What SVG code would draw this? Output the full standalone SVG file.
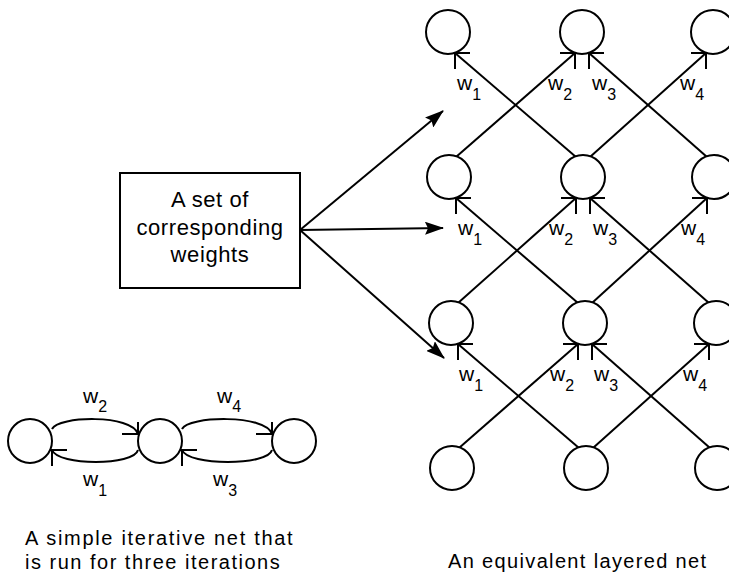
<svg xmlns="http://www.w3.org/2000/svg" xmlns:xlink="http://www.w3.org/1999/xlink" width="729" height="573" viewBox="0 0 729 573">
  <style>
    .node { fill: #fff; stroke: #000; stroke-width: 2; }
    .edge { fill: none; stroke: #000; stroke-width: 2; }
    .hd { fill: none; stroke: #000; stroke-width: 2; }
    .lbl { font-family: "Liberation Sans", Arial, sans-serif; font-size: 21px; fill: #000; }
    .sub { font-size: 16px; }
    .box-text { font-family: "Liberation Sans", Arial, sans-serif; font-size: 22px; letter-spacing: 0.6px; fill: #000; text-anchor: middle; }
    .caption { font-family: "Liberation Sans", Arial, sans-serif; font-size: 20px; fill: #000; }
  </style>
  <defs>
    <!-- open arrowheads: tip at origin, one horizontal and one vertical barb -->
    <path id="hdR" d="M-2,0 H15 M0,0 V16"/>
    <path id="hdL" d="M2,0 H-15 M0,0 V16"/>
    <path id="hdLU" d="M1,0 H-16 M0,1 V-12"/>
    <marker id="solid" viewBox="0 0 19 13" refX="18" refY="6.5" markerWidth="19" markerHeight="13" markerUnits="userSpaceOnUse" orient="auto">
      <path d="M0,0 L19,6.5 L0,13 L3,6.5 z" fill="#000"/>
    </marker>
  </defs>

  <rect width="729" height="573" fill="#fff"/>

  <!-- weights box -->
  <g id="weights-box">
    <rect x="120" y="173" width="180" height="115" fill="#fff" stroke="#000" stroke-width="2"/>
    <text class="box-text" x="210" y="207">A set of</text>
    <text class="box-text" x="210" y="235">corresponding</text>
    <text class="box-text" x="210" y="262">weights</text>
  </g>

  <!-- connectors -->
  <g id="connectors">
    <!-- box to each layer -->
    <g class="edge" marker-end="url(#solid)">
      <line x1="300" y1="230" x2="443" y2="111"/>
      <line x1="300" y1="230" x2="443" y2="228"/>
      <line x1="300" y1="230" x2="444" y2="358"/>
    </g>

    <!-- layered net: rows 3 to 2, 2 to 1, 1 to 0 -->
    <g class="edge">
      <line x1="456" y1="157" x2="575" y2="53"/>
      <line x1="576" y1="157" x2="455" y2="53"/>
      <line x1="590" y1="157" x2="706" y2="53"/>
      <line x1="707" y1="157" x2="589" y2="53"/>

      <line x1="458" y1="303" x2="576" y2="198"/>
      <line x1="578" y1="303" x2="456" y2="198"/>
      <line x1="592" y1="303" x2="707" y2="198"/>
      <line x1="709" y1="303" x2="590" y2="198"/>

      <line x1="459" y1="448" x2="578" y2="344"/>
      <line x1="579" y1="448" x2="458" y2="344"/>
      <line x1="593" y1="448" x2="709" y2="344"/>
      <line x1="710" y1="448" x2="592" y2="344"/>
    </g>
    <g class="hd">
      <use xlink:href="#hdR" href="#hdR" x="455" y="53"/>
      <use xlink:href="#hdL" href="#hdL" x="575" y="53"/>
      <use xlink:href="#hdR" href="#hdR" x="589" y="53"/>
      <use xlink:href="#hdL" href="#hdL" x="706" y="53"/>

      <use xlink:href="#hdR" href="#hdR" x="456" y="198"/>
      <use xlink:href="#hdL" href="#hdL" x="576" y="198"/>
      <use xlink:href="#hdR" href="#hdR" x="590" y="198"/>
      <use xlink:href="#hdL" href="#hdL" x="707" y="198"/>

      <use xlink:href="#hdR" href="#hdR" x="458" y="344"/>
      <use xlink:href="#hdL" href="#hdL" x="578" y="344"/>
      <use xlink:href="#hdR" href="#hdR" x="592" y="344"/>
      <use xlink:href="#hdL" href="#hdL" x="709" y="344"/>
    </g>

    <!-- iterative net loops -->
    <g class="edge">
      <path d="M52,429 C58,416 132,414 138,434"/>
      <path d="M138,450 C134,466 58,466 52,450"/>
      <path d="M182,429 C188,416 266,414 272,434"/>
      <path d="M272,450 C268,466 188,466 182,450"/>
    </g>
    <g class="hd">
      <use xlink:href="#hdLU" href="#hdLU" x="138" y="434"/>
      <use xlink:href="#hdR" href="#hdR" x="52" y="450"/>
      <use xlink:href="#hdLU" href="#hdLU" x="272" y="434"/>
      <use xlink:href="#hdR" href="#hdR" x="182" y="450"/>
    </g>
  </g>

  <!-- weight labels, layered net -->
  <g id="layer-labels" class="lbl">
    <text x="457" y="90">w<tspan class="sub" dy="10">1</tspan></text>
    <text x="548" y="90">w<tspan class="sub" dy="10">2</tspan></text>
    <text x="592" y="90">w<tspan class="sub" dy="10">3</tspan></text>
    <text x="680" y="90">w<tspan class="sub" dy="10">4</tspan></text>

    <text x="458" y="235">w<tspan class="sub" dy="10">1</tspan></text>
    <text x="549" y="235">w<tspan class="sub" dy="10">2</tspan></text>
    <text x="593" y="235">w<tspan class="sub" dy="10">3</tspan></text>
    <text x="681" y="235">w<tspan class="sub" dy="10">4</tspan></text>

    <text x="459" y="381">w<tspan class="sub" dy="10">1</tspan></text>
    <text x="550" y="381">w<tspan class="sub" dy="10">2</tspan></text>
    <text x="594" y="381">w<tspan class="sub" dy="10">3</tspan></text>
    <text x="683" y="381">w<tspan class="sub" dy="10">4</tspan></text>
  </g>

  <!-- layered net nodes -->
  <g id="layer0-n1"><circle class="node" cx="448" cy="32" r="22"/></g>
  <g id="layer0-n2"><circle class="node" cx="582" cy="32" r="22"/></g>
  <g id="layer0-n3"><circle class="node" cx="713" cy="32" r="22"/></g>
  <g id="layer1-n1"><circle class="node" cx="449" cy="177" r="22"/></g>
  <g id="layer1-n2"><circle class="node" cx="583" cy="177" r="22"/></g>
  <g id="layer1-n3"><circle class="node" cx="714" cy="177" r="22"/></g>
  <g id="layer2-n1"><circle class="node" cx="451" cy="323" r="22"/></g>
  <g id="layer2-n2"><circle class="node" cx="585" cy="323" r="22"/></g>
  <g id="layer2-n3"><circle class="node" cx="716" cy="323" r="22"/></g>
  <g id="layer3-n1"><circle class="node" cx="452" cy="468" r="22"/></g>
  <g id="layer3-n2"><circle class="node" cx="586" cy="468" r="22"/></g>
  <g id="layer3-n3"><circle class="node" cx="717" cy="468" r="22"/></g>

  <!-- iterative net nodes -->
  <g id="iter-n1"><circle class="node" cx="30" cy="441" r="22"/></g>
  <g id="iter-n2"><circle class="node" cx="160" cy="441" r="22"/></g>
  <g id="iter-n3"><circle class="node" cx="294" cy="441" r="22"/></g>

  <!-- weight labels, iterative net -->
  <g id="iter-labels" class="lbl">
    <text x="83" y="403">w<tspan class="sub" dy="9">2</tspan></text>
    <text x="217" y="403">w<tspan class="sub" dy="9">4</tspan></text>
    <text x="83" y="486">w<tspan class="sub" dy="10">1</tspan></text>
    <text x="213" y="486">w<tspan class="sub" dy="10">3</tspan></text>
  </g>

  <!-- captions -->
  <g id="captions" class="caption">
    <text x="25" y="545" letter-spacing="1.7">A simple iterative net that</text>
    <text x="25" y="569" letter-spacing="1.5">is run for three iterations</text>
    <text x="448" y="568" letter-spacing="1.35">An equivalent layered net</text>
  </g>
</svg>
